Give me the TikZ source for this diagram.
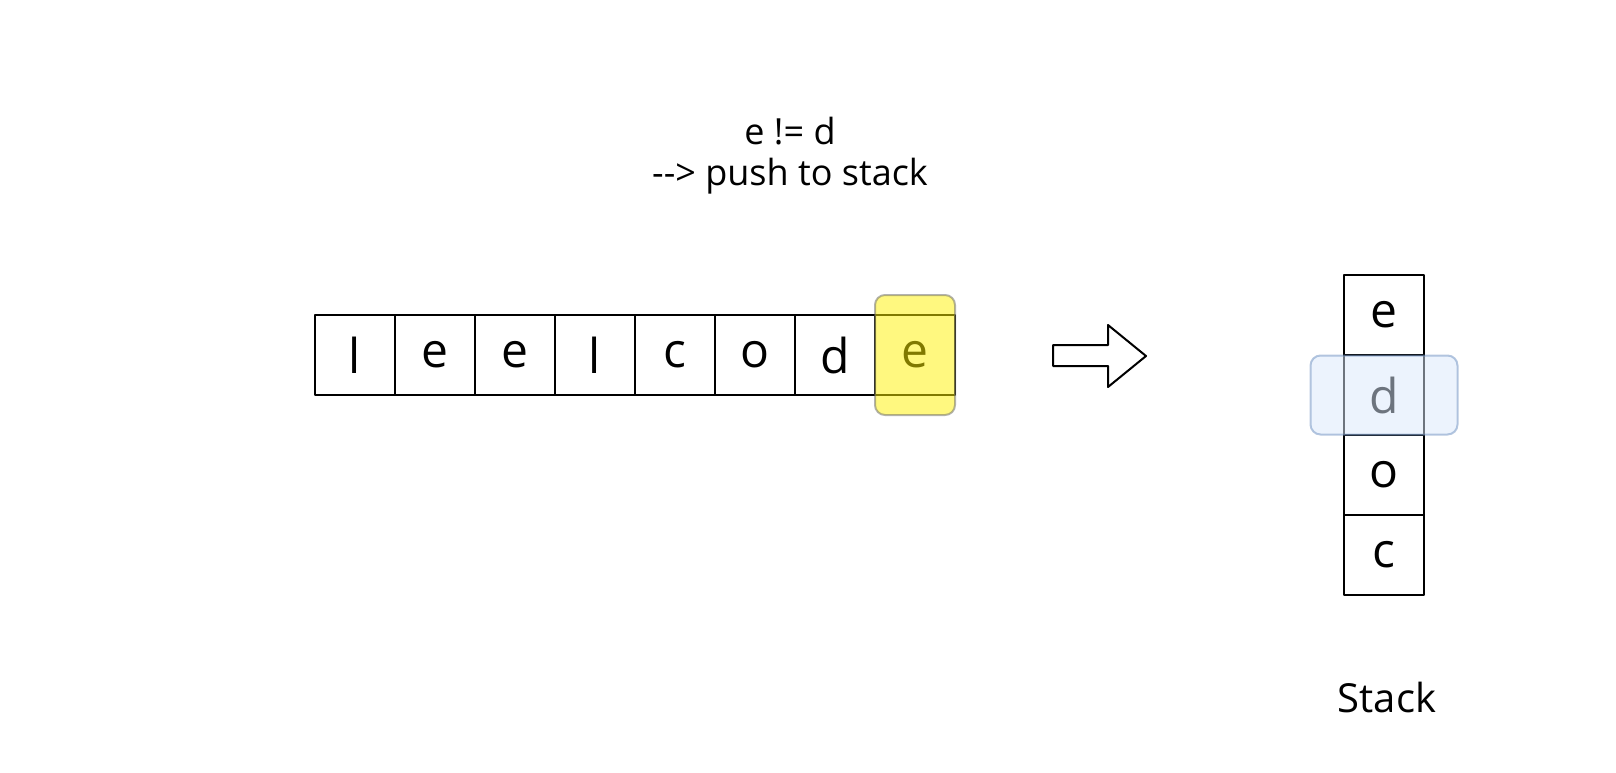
\documentclass[tikz,border=0pt]{standalone}
\usepackage{fontspec}
\setmainfont{Open Sans}
\begin{document}
\begin{tikzpicture}[x=1pt, y=-1pt, line join=round, line width=2pt]
  \tikzset{cell/.style={draw, minimum width=80pt, minimum height=80pt, inner sep=0pt, font=\fontsize{48}{56}\selectfont},
    hilite/.style={rounded corners=10pt, fill opacity=0.5, draw opacity=0.5},
    caption/.style={font=\fontsize{36}{41}\selectfont, align=center}}
  \useasboundingbox (0,0) rectangle (1616,772);
  % string being scanned
  \foreach \ch [count=\i] in {l,e,e,l,c,o,d,e}
    \node[cell] (s\i) at ({275+80*\i},355) {\ch};
  \node[hilite, draw=black!60, fill=yellow, minimum width=80pt, minimum height=120pt] (cur) at (s8) {};
  \node[caption] (cond) at (790,156) {e != d\\-{}-{}> push to stack};
  \draw (1053,345) -- (1108,345) -- (1108,325) -- (1146,356) -- (1108,387) -- (1108,366) -- (1053,366) -- cycle;
  % stack
  \foreach \ch [count=\i] in {e,d,o,c}
    \node[cell] (k\i) at ({1384},{235+80*\i}) {\ch};
  \node[hilite, draw={rgb,255:red,108;green,142;blue,191}, fill={rgb,255:red,218;green,232;blue,252}, minimum width=147pt, minimum height=79pt] (top) at (k2) {};
  \node[caption, font=\fontsize{40}{46}\selectfont] (lbl) at (1387,697) {Stack};
\end{tikzpicture}
\end{document}
